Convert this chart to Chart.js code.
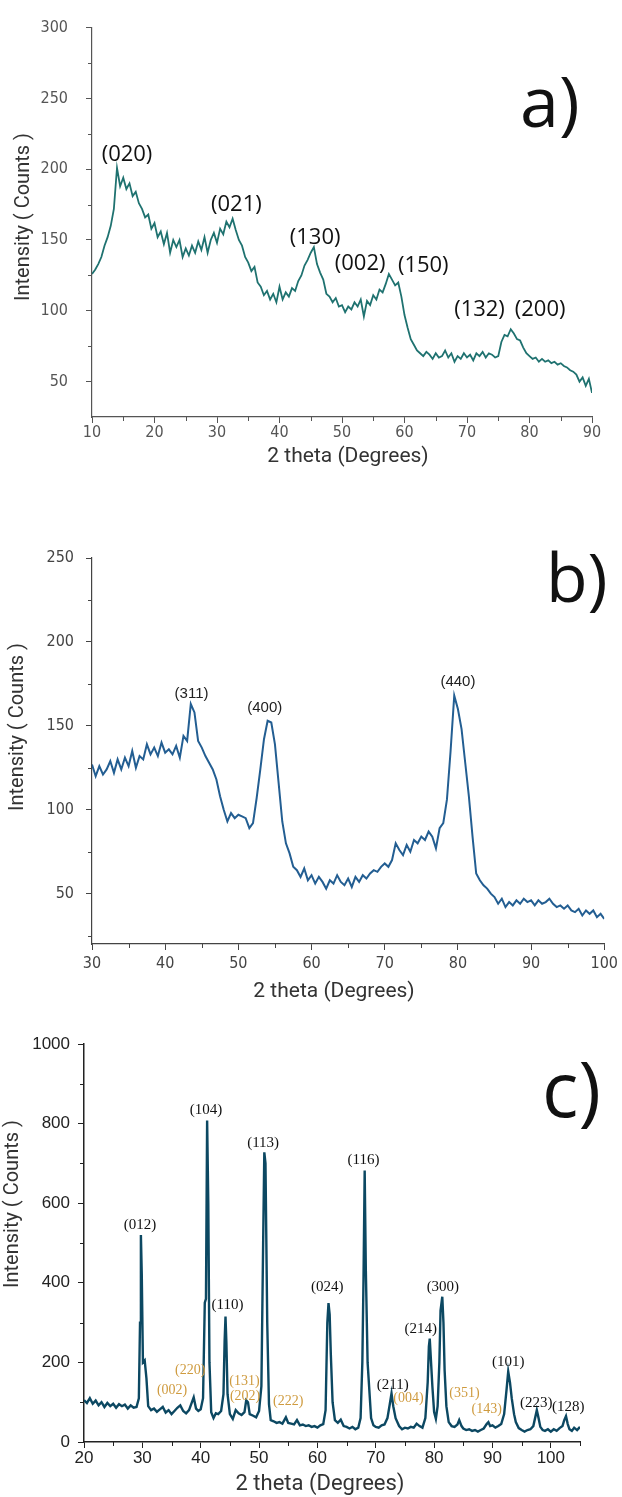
<!DOCTYPE html>
<html>
<head>
<meta charset="utf-8">
<title>XRD patterns</title>
<script src="https://cdn.jsdelivr.net/npm/chart.js@4.4.0/dist/chart.umd.min.js"></script>
<style>
  html, body { margin: 0; padding: 0; background: #fff; }
  body { width: 622px; height: 1497px; position: relative; overflow: hidden; }
  .panel { position: absolute; left: 0; width: 622px; }
  #wrapA { top: 0; height: 480px; }
  #wrapB { top: 490px; height: 522px; }
  #wrapC { top: 1012px; height: 510px; }
</style>
</head>
<body>
<div class="panel" id="wrapA"><canvas id="chartA"></canvas></div>
<div class="panel" id="wrapB"><canvas id="chartB"></canvas></div>
<div class="panel" id="wrapC"><canvas id="chartC"></canvas></div>

<script>
// ---- panel a) ----
const thetaA = [10, 10.5, 11, 11.5, 12, 12.5, 13, 13.5, 14, 14.5, 15, 15.5, 16, 16.5, 17, 17.5, 18, 18.5, 19, 19.5,
  20, 20.5, 21, 21.5, 22, 22.5, 23, 23.5, 24, 24.5, 25, 25.5, 26, 26.5, 27, 27.5, 28, 28.5, 29, 29.5,
  30, 30.5, 31, 31.5, 32, 32.5, 33, 33.5, 34, 34.5, 35, 35.5, 36, 36.5, 37, 37.5, 38, 38.5, 39, 39.5,
  40, 40.5, 41, 41.5, 42, 42.5, 43, 43.5, 44, 44.5, 45, 45.5, 46, 46.5, 47, 47.5, 48, 48.5, 49, 49.5,
  50, 50.5, 51, 51.5, 52, 52.5, 53, 53.5, 54, 54.5, 55, 55.5, 56, 56.5, 57, 57.5, 58, 58.5, 59, 59.5,
  60, 60.5, 61, 61.5, 62, 62.5, 63, 63.5, 64, 64.5, 65, 65.5, 66, 66.5, 67, 67.5, 68, 68.5, 69, 69.5,
  70, 70.5, 71, 71.5, 72, 72.5, 73, 73.5, 74, 74.5, 75, 75.5, 76, 76.5, 77, 77.5, 78, 78.5, 79, 79.5,
  80, 80.5, 81, 81.5, 82, 82.5, 83, 83.5, 84, 84.5, 85, 85.5, 86, 86.5, 87, 87.5, 88, 88.5, 89, 89.5, 90];
const countsA = [126, 129, 133, 138, 146, 152, 160, 172, 201, 188, 194, 186, 190, 181, 184, 176, 172, 166, 168, 158,
  162, 152, 156, 147, 155, 141, 150, 145, 150, 138, 144, 139, 146, 141, 149, 143, 152, 141, 150, 155,
  148, 158, 154, 163, 159, 165, 157, 150, 146, 138, 134, 128, 131, 120, 117, 111, 114, 108, 112, 106,
  117, 108, 113, 110, 116, 114, 121, 125, 132, 136, 141, 145, 133, 127, 122, 112, 110, 106, 109, 103,
  104, 99, 103, 101, 106, 103, 108, 96, 107, 104, 111, 108, 115, 113, 119, 126, 122, 118, 120, 110,
  97, 88, 80, 76, 72, 70, 68, 71, 69, 66, 70, 67, 68, 72, 67, 70, 64, 68, 66, 70,
  67, 69, 65, 70, 68, 71, 67, 70, 69, 67, 68, 78, 83, 82, 87, 84, 80, 79, 74, 70,
  68, 66, 67, 64, 66, 64, 65, 63, 64, 62, 63, 61, 60, 58, 57, 55, 50, 53, 47, 52, 42];
const ticksAX = [10, 20, 30, 40, 50, 60, 70, 80, 90];
const minorAX = [15, 25, 35, 45, 55, 65, 75, 85];
const ticksAY = [50, 100, 150, 200, 250, 300];
const minorAY = [75, 125, 175, 225, 275];
const peakTextA = ['(020)', '(021)', '(130)', '(002)', '(150)', '(132)', '(200)'];
const peakXA = [15.6, 33.1, 45.7, 52.9, 63.0, 72.0, 81.7];
const peakYA = [210, 175, 151.5, 133, 132, 101, 101];

// ---- panel b) ----
const thetaB = [30, 30.5, 31, 31.5, 32, 32.5, 33, 33.5, 34, 34.5, 35, 35.5, 36, 36.5, 37, 37.5, 38, 38.5, 39, 39.5,
  40, 40.5, 41, 41.5, 42, 42.5, 43, 43.5, 44, 44.5, 45, 45.5, 46, 46.5, 47, 47.5, 48, 48.5, 49, 49.5,
  50, 50.5, 51, 51.5, 52, 52.5, 53, 53.5, 54, 54.5, 55, 55.5, 56, 56.5, 57, 57.5, 58, 58.5, 59, 59.5,
  60, 60.5, 61, 61.5, 62, 62.5, 63, 63.5, 64, 64.5, 65, 65.5, 66, 66.5, 67, 67.5, 68, 68.5, 69, 69.5,
  70, 70.5, 71, 71.5, 72, 72.5, 73, 73.5, 74, 74.5, 75, 75.5, 76, 76.5, 77, 77.5, 78, 78.5, 79, 79.5,
  80, 80.5, 81, 81.5, 82, 82.5, 83, 83.5, 84, 84.5, 85, 85.5, 86, 86.5, 87, 87.5, 88, 88.5, 89, 89.5,
  90, 90.5, 91, 91.5, 92, 92.5, 93, 93.5, 94, 94.5, 95, 95.5, 96, 96.5, 97, 97.5, 98, 98.5, 99, 99.5, 100];
const countsB = [127, 120, 126, 121, 124, 129, 122, 130, 124, 131, 126, 135, 125, 132, 130, 139, 133, 137, 132, 140,
  134, 136, 133, 138, 131, 144, 141, 163, 158, 141, 137, 132, 128, 124, 118, 108, 100, 93, 98, 95,
  97, 96, 95, 89, 92, 107, 124, 142, 153, 152, 139, 116, 93, 80, 74, 66, 64, 60, 65, 58,
  61, 56, 60, 57, 53, 58, 56, 61, 57, 55, 59, 54, 60, 57, 61, 59, 62, 64, 63, 66,
  68, 66, 70, 80, 76, 73, 79, 75, 82, 80, 84, 82, 87, 84, 77, 89, 92, 106, 135, 168,
  160, 148, 128, 108, 84, 62, 58, 55, 53, 50, 48, 44, 47, 42, 45, 43, 46, 44, 47, 45,
  46, 43, 46, 44, 45, 47, 44, 42, 43, 41, 43, 40, 39, 41, 37, 40, 38, 40, 36, 38, 35];
const ticksBX = [30, 40, 50, 60, 70, 80, 90, 100];
const minorBX = [35, 45, 55, 65, 75, 85, 95];
const ticksBY = [50, 100, 150, 200, 250];
const minorBY = [25, 75, 125, 175, 225];
const peakTextB = ['(311)', '(400)', '(440)'];
const peakXB = [43.6, 53.6, 80.0];
const peakYB = [169, 161, 176];

// ---- panel c) ----
const thetaC = [20, 20.5, 21, 21.5, 22, 22.5, 23, 23.5, 24, 24.5, 25, 25.5, 26, 26.5, 27, 27.5, 28, 28.5, 29,
  29.4, 29.6, 29.75, 29.9, 30.1, 30.4, 30.7, 31, 31.5, 32, 32.5, 33, 33.5, 34, 34.5, 35, 35.5, 36, 36.5, 37, 37.5,
  38, 38.5, 38.8, 39.2, 39.6, 40, 40.4, 40.7, 40.9, 41.1, 41.3, 41.5, 41.8, 42.2, 42.6, 43, 43.5, 43.9, 44.1, 44.25,
  44.4, 44.6, 45, 45.5, 46, 46.5, 47, 47.5, 47.8, 48.1, 48.4, 49, 49.5, 50, 50.4, 50.7, 50.9, 51.1, 51.4, 51.7,
  52, 52.5, 53, 53.5, 54, 54.6, 55, 55.5, 56, 56.5, 57, 57.5, 58, 58.5, 59, 59.5, 60, 60.5, 61, 61.4,
  61.7, 61.9, 62.1, 62.3, 62.6, 63, 63.5, 64, 64.5, 65, 65.5, 66, 66.5, 67, 67.4, 67.7, 67.9, 68.1, 68.3, 68.6,
  68.9, 69.2, 69.6, 70, 70.5, 71, 71.5, 72, 72.4, 72.7, 73, 73.4, 74, 74.5, 75, 75.5, 76, 76.5, 77, 77.5,
  78, 78.5, 78.9, 79.1, 79.25, 79.4, 79.7, 80, 80.3, 80.6, 80.9, 81.1, 81.4, 81.6, 81.8, 82.1, 82.5, 83, 83.5, 84,
  84.3, 84.7, 85, 85.5, 86, 86.5, 87, 87.5, 88, 88.5, 89, 89.3, 89.6, 90, 90.5, 91, 91.5, 92, 92.4, 92.7,
  93, 93.3, 93.7, 94, 94.5, 95, 95.5, 96, 96.5, 97, 97.3, 97.6, 97.9, 98.2, 98.6, 99, 99.5, 100, 100.5, 101,
  101.5, 102, 102.3, 102.6, 102.9, 103.2, 103.6, 104, 104.5, 105];
const countsC = [105, 98, 110, 96, 104, 92, 100, 88, 98, 90, 96, 86, 95, 90, 94, 84, 92, 86, 88,
  110, 300, 520, 420, 200, 205, 160, 90, 80, 84, 76, 82, 88, 74, 80, 70, 78, 86, 92, 78, 72,
  80, 100, 112, 84, 78, 82, 110, 350, 360, 808, 600, 200, 75, 60, 72, 70, 78, 120, 255, 315,
  250, 120, 70, 58, 80, 72, 68, 75, 105, 100, 70, 66, 62, 78, 140, 500, 728, 700, 300, 95,
  55, 52, 48, 50, 46, 62, 48, 46, 44, 55, 42, 44, 40, 42, 38, 40, 36, 42, 45, 80,
  300, 349, 320, 220, 100, 55, 48, 56, 40, 38, 34, 38, 32, 36, 60, 200, 410, 682, 430, 200,
  130, 60, 42, 38, 36, 42, 44, 60, 95, 122, 90, 60, 40, 32, 36, 34, 38, 36, 46, 40,
  36, 60, 150, 240, 260, 220, 140, 75, 58, 90, 200, 330, 365, 300, 180, 90, 50, 40, 38, 44,
  55, 40, 34, 30, 32, 28, 30, 26, 30, 34, 45, 50, 40, 42, 36, 40, 45, 70, 130, 177,
  150, 110, 70, 50, 35, 30, 26, 30, 32, 40, 60, 80, 60, 38, 30, 28, 32, 26, 32, 28,
  35, 40, 55, 65, 45, 32, 28, 36, 30, 38];
const ticksCX = [20, 30, 40, 50, 60, 70, 80, 90, 100];
const minorCX = [25, 35, 45, 55, 65, 75, 85, 95, 105];
const ticksCY = [0, 200, 400, 600, 800, 1000];
const minorCY = [100, 300, 500, 700, 900];
const peakTextC = ['(012)', '(104)', '(113)', '(116)', '(110)', '(024)', '(300)', '(214)', '(211)', '(101)', '(223)', '(128)'];
const peakXC = [29.6, 40.9, 50.7, 67.9, 44.6, 61.7, 81.5, 77.7, 72.9, 92.7, 97.5, 103.0];
const peakYC = [546, 835, 751, 709, 345, 389, 389, 283, 143, 200, 97, 87];
const minorTextC = ['(002)', '(220)', '(131)', '(202)', '(222)', '(004)', '(351)', '(143)'];
const minorXC = [35.1, 38.2, 47.5, 47.6, 55.0, 75.6, 85.2, 89.0];
const minorYC = [131, 179, 152, 114, 101, 110, 122, 82];

// draws minor ticks, peak indices, axis titles and panel letter
const xrdDecor = {
    id: 'xrdDecor',
    afterDraw(chart, args, opts) {
        const ctx = chart.ctx;
        const xs = chart.scales.x;
        const ys = chart.scales.y;
        const area = chart.chartArea;
        ctx.save();

        ctx.strokeStyle = opts.axisColor;
        ctx.lineWidth = 1;
        ctx.beginPath();
        opts.minorX.forEach(v => {
            const px = Math.round(xs.getPixelForValue(v)) + 0.5;
            ctx.moveTo(px, area.bottom);
            ctx.lineTo(px, area.bottom + 4);
        });
        opts.minorY.forEach(v => {
            const py = Math.round(ys.getPixelForValue(v)) + 0.5;
            ctx.moveTo(area.left, py);
            ctx.lineTo(area.left - 4, py);
        });
        ctx.stroke();

        ctx.textAlign = 'center';
        ctx.textBaseline = 'middle';
        opts.labels.forEach(set => {
            ctx.font = set.font;
            ctx.fillStyle = set.color;
            set.text.forEach((t, i) => {
                ctx.fillText(t, xs.getPixelForValue(set.x[i]), ys.getPixelForValue(set.y[i]));
            });
        });

        // axis titles
        ctx.fillStyle = opts.titleColor;
        ctx.font = opts.yTitle.font;
        ctx.save();
        ctx.translate(opts.yTitle.x, opts.yTitle.y);
        ctx.rotate(-Math.PI / 2);
        ctx.fillText('Intensity ( Counts )', 0, 0);
        ctx.restore();
        ctx.font = opts.xTitle.font;
        ctx.fillText('2 theta (Degrees)', opts.xTitle.x, opts.xTitle.y);

        // panel letter
        ctx.fillStyle = '#111';
        ctx.font = opts.tag.font;
        ctx.textAlign = 'left';
        ctx.textBaseline = 'alphabetic';
        ctx.fillText(opts.tag.text, opts.tag.x, opts.tag.y);

        ctx.restore();
    }
};

function buildXrdChart(id, cfg) {
    const ctx = document.getElementById(id).getContext('2d');
    return new Chart(ctx, {
        type: 'line',
        data: {
            datasets: [{
                data: cfg.theta.map((t, i) => ({ x: t, y: cfg.counts[i] })),
                borderColor: cfg.color,
                borderWidth: cfg.lineWidth,
                pointRadius: 0,
                tension: 0,
                fill: false
            }]
        },
        options: {
            responsive: true,
            maintainAspectRatio: false,
            animation: false,
            layout: { padding: { top: cfg.plotTop, right: cfg.padRight, bottom: 0, left: 0 } },
            plugins: {
                legend: { display: false },
                tooltip: { enabled: false },
                xrdDecor: cfg.decor
            },
            scales: {
                x: {
                    type: 'linear',
                    min: cfg.xMin,
                    max: cfg.xMax,
                    afterBuildTicks: s => { s.ticks = cfg.ticksX.map(v => ({ value: v })); },
                    afterFit: s => { s.height = cfg.xHeight; },
                    grid: { drawOnChartArea: false, drawTicks: true, tickLength: 6, color: cfg.axisColor },
                    border: { color: cfg.axisColor, width: cfg.axisWidth },
                    ticks: {
                        padding: cfg.xPad, color: cfg.tickColor, font: cfg.tickFont,
                        maxRotation: 0, autoSkip: false,
                        callback: v => String(v)
                    }
                },
                y: {
                    min: cfg.yMin,
                    max: cfg.yMax,
                    afterBuildTicks: s => { s.ticks = cfg.ticksY.map(v => ({ value: v })); },
                    afterFit: s => { s.width = cfg.yWidth; },
                    grid: { drawOnChartArea: false, drawTicks: true, tickLength: 6, color: cfg.axisColor },
                    border: { color: cfg.axisColor, width: cfg.axisWidth },
                    ticks: {
                        padding: cfg.yPad, color: cfg.tickColor, font: cfg.tickFont,
                        callback: v => String(v)
                    }
                }
            }
        },
        plugins: [xrdDecor]
    });
}

const narrow = "'Liberation Sans Narrow', 'DejaVu Sans Condensed', sans-serif";

buildXrdChart('chartA', {
    theta: thetaA, counts: countsA, color: '#1f7270', lineWidth: 1.8,
    xMin: 10, xMax: 90, yMin: 25, yMax: 300, ticksX: ticksAX, ticksY: ticksAY,
    plotTop: 21, padRight: 30, xHeight: 63, yWidth: 92, xPad: 0, yPad: 18,
    axisColor: '#555', axisWidth: 1.2, tickColor: '#555',
    tickFont: { family: narrow, size: 16 },
    decor: {
        axisColor: '#555', minorX: minorAX, minorY: minorAY,
        labels: [{ text: peakTextA, x: peakXA, y: peakYA, font: "22px 'Open Sans'", color: '#111' }],
        titleColor: '#333',
        yTitle: { x: 24, y: 217, font: "20px Roboto" },
        xTitle: { x: 348, y: 457, font: "21px Roboto" },
        tag: { text: 'a)', x: 520, y: 127, font: "70px 'Open Sans'" }
    }
});

buildXrdChart('chartB', {
    theta: thetaB, counts: countsB, color: '#235e92', lineWidth: 2,
    xMin: 30, xMax: 100, yMin: 20, yMax: 250, ticksX: ticksBX, ticksY: ticksBY,
    plotTop: 68, padRight: 10, xHeight: 68, yWidth: 92, xPad: 4, yPad: 12,
    axisColor: '#444', axisWidth: 1.2, tickColor: '#444',
    tickFont: { family: narrow, size: 16 },
    decor: {
        axisColor: '#444', minorX: minorBX, minorY: minorBY,
        labels: [{ text: peakTextB, x: peakXB, y: peakYB, font: "15px 'Liberation Sans'", color: '#222' }],
        titleColor: '#333',
        yTitle: { x: 18, y: 237, font: "20px Roboto" },
        xTitle: { x: 334, y: 502, font: "21px Roboto" },
        tag: { text: 'b)', x: 546, y: 112, font: "68px 'Open Sans'" }
    }
});

buildXrdChart('chartC', {
    theta: thetaC, counts: countsC, color: '#0c4862', lineWidth: 2.4,
    xMin: 20, xMax: 105, yMin: 0, yMax: 1000, ticksX: ticksCX, ticksY: ticksCY,
    plotTop: 32, padRight: 42, xHeight: 80, yWidth: 84, xPad: 0, yPad: 8,
    axisColor: '#222', axisWidth: 1.5, tickColor: '#222',
    tickFont: { family: "'Liberation Sans', Arial, sans-serif", size: 17 },
    decor: {
        axisColor: '#222', minorX: minorCX, minorY: minorCY,
        labels: [
            { text: peakTextC, x: peakXC, y: peakYC, font: "15px 'Liberation Serif'", color: '#111' },
            { text: minorTextC, x: minorXC, y: minorYC, font: "14px 'Liberation Serif'", color: '#cf9b3f' }
        ],
        titleColor: '#333',
        yTitle: { x: 13, y: 192, font: "20px Roboto" },
        xTitle: { x: 320, y: 472, font: "22px Roboto" },
        tag: { text: 'c)', x: 542, y: 105, font: "76px 'Open Sans'" }
    }
});
</script>
</body>
</html>
